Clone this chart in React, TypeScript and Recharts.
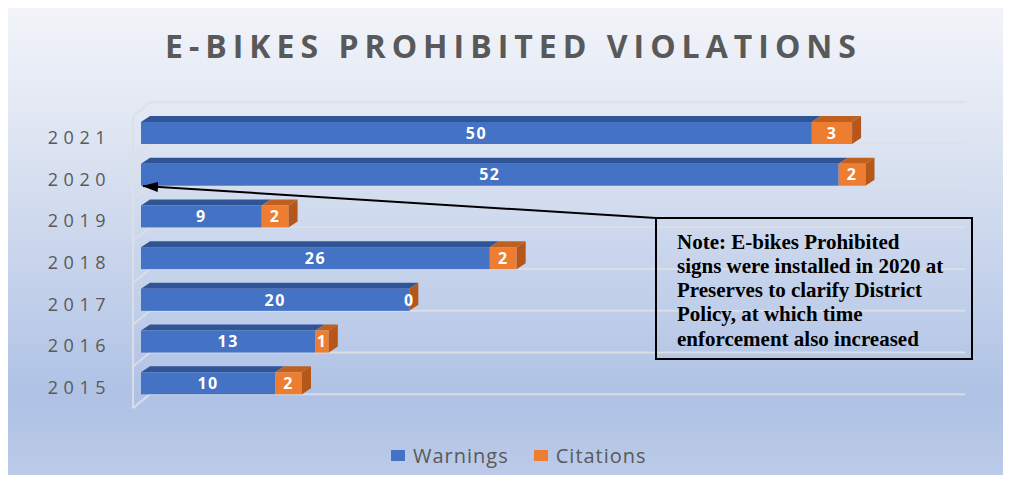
import { Bar, BarChart, CartesianGrid, LabelList, Legend, XAxis, YAxis } from "recharts";

const years = ["2015", "2016", "2017", "2018", "2019", "2020", "2021"];
const warnings = [10, 13, 20, 26, 9, 52, 50];
const citations = [2, 1, 0, 2, 2, 2, 3];
const seriesOrder = ["Warnings", "Citations"];

const data = years.map((year, i) => ({
  year,
  warnings: warnings[i],
  citations: citations[i],
}));

const W = 1011;
const H = 483;
const BAR_SIZE = 22;
const DX = 9;
const DY = 6;
const GRID = "rgba(220,224,230,0.9)";

const box =
  (front: string, top: string, side: string, withSide: boolean) =>
  (props: any) => {
    const { x, y, width, height } = props;
    const w = Math.max(0, width);
    return (
      <g>
        <polygon
          points={`${x},${y} ${x + DX},${y - DY} ${x + w + DX},${y - DY} ${x + w},${y}`}
          fill={top}
        />
        <rect x={x} y={y} width={w} height={height} fill={front} />
        {withSide && (
          <polygon
            points={`${x + w},${y} ${x + w + DX},${y - DY} ${x + w + DX},${y + height - DY} ${x + w},${y + height}`}
            fill={side}
          />
        )}
      </g>
    );
  };

const YearTick = (props: any) => {
  const { x, y, payload } = props;
  return (
    <text
      x={x - 22}
      y={y + 11}
      textAnchor="end"
      fill="#595959"
      fontSize={18}
      letterSpacing={5.5}
      fontFamily="'Open Sans', sans-serif"
    >
      {payload.value}
    </text>
  );
};

// back wall lines: one under each bar plus one above the top bar
const gridRows = (p: any) => {
  const band = p.offset.height / years.length;
  const rows = [p.offset.top - band / 2 + BAR_SIZE / 2];
  years.forEach((_, i) => rows.push(p.offset.top + band * i + band / 2 + BAR_SIZE / 2));
  return rows;
};

const GridRow = (props: any) => {
  const { x1, x2, y1 } = props;
  return (
    <g>
      <line x1={x1 - 8} y1={y1 + 14} x2={x1 + 9} y2={y1} stroke={GRID} strokeWidth={2} />
      <line x1={x1 + 9} y1={y1} x2={x2 + 19} y2={y1} stroke={GRID} strokeWidth={2} />
    </g>
  );
};

const WallLine = (props: any) => {
  const { x1, y1, y2 } = props;
  const band = (y2 - y1) / years.length;
  return (
    <line
      x1={x1}
      y1={y1 - band / 2 + BAR_SIZE / 2 + 14}
      x2={x1}
      y2={y2 - band / 2 + BAR_SIZE / 2 + 14}
      stroke={GRID}
      strokeWidth={2}
    />
  );
};

const LegendBox = (props: any) => {
  const items = [...props.payload].sort(
    (a: any, b: any) => seriesOrder.indexOf(a.value) - seriesOrder.indexOf(b.value)
  );
  return (
    <div
      style={{
        height: 65,
        display: "flex",
        alignItems: "flex-end",
        paddingLeft: 391,
        fontFamily: "'Open Sans', sans-serif",
        fontSize: 20,
        color: "#595959",
        boxSizing: "border-box",
      }}
    >
      {items.map((entry: any) => (
        <div key={entry.value} style={{ display: "flex", alignItems: "center", marginRight: 25 }}>
          <span style={{ width: 14, height: 11, background: entry.color, marginRight: 8 }} />
          <span style={{ letterSpacing: 1 }}>{entry.value}</span>
        </div>
      ))}
    </div>
  );
};

const noteLines = [
  "Note: E-bikes Prohibited",
  "signs were installed in 2020 at",
  "Preserves to clarify District",
  "Policy, at which time",
  "enforcement also increased",
];

export default function App() {
  return (
    <div style={{ margin: -8, width: W, height: H, position: "relative", background: "#fff", overflow: "hidden" }}>
      <div
        style={{
          position: "absolute",
          left: 5,
          top: 7,
          width: 998,
          height: 474,
          border: "1px solid #d9d9d9",
          background:
            "linear-gradient(180deg, #f2f4f9 0%, #e2e8f4 22%, #c9d5ec 52%, #afc2e5 82%, #bccbe8 100%)",
        }}
      />
      <div
        style={{
          position: "absolute",
          left: 0,
          top: 24,
          width: W,
          paddingLeft: 16,
          boxSizing: "border-box",
          textAlign: "center",
          fontFamily: "'Open Sans', sans-serif",
          fontWeight: 700,
          fontSize: 32,
          letterSpacing: 6,
          color: "#595959",
        }}
      >
        E-BIKES PROHIBITED VIOLATIONS
      </div>
      <div style={{ position: "absolute", left: 0, top: 0 }}>
        <BarChart
          width={W}
          height={H}
          data={data}
          layout="vertical"
          margin={{ top: 112, right: 65, bottom: 14, left: 0 }}
          barSize={BAR_SIZE}
        >
          <CartesianGrid
            horizontalCoordinatesGenerator={gridRows}
            verticalCoordinatesGenerator={(p: any) => [p.offset.left - 8]}
            horizontal={GridRow}
            vertical={WallLine}
          />
          <XAxis type="number" domain={[0, 60]} hide />
          <YAxis
            type="category"
            dataKey="year"
            reversed
            width={141}
            axisLine={false}
            tickLine={false}
            tick={YearTick}
          />
          <Legend verticalAlign="bottom" content={LegendBox} />
          <Bar
            dataKey="warnings"
            name="Warnings"
            stackId="a"
            fill="#4472c4"
            shape={box("#4472c4", "#2f5597", "#2f5597", false)}
            isAnimationActive={false}
          >
            <LabelList
              dataKey="warnings"
              position="center"
              fill="#fff"
              fontSize={16}
              fontWeight={700}
              letterSpacing={1.5}
              fontFamily="'Open Sans', sans-serif"
            />
          </Bar>
          <Bar
            dataKey="citations"
            name="Citations"
            stackId="a"
            fill="#ed7d31"
            shape={box("#ed7d31", "#c0601f", "#b5571b", true)}
            isAnimationActive={false}
          >
            <LabelList
              dataKey="citations"
              position="center"
              fill="#fff"
              fontSize={16}
              fontWeight={700}
              letterSpacing={1.5}
              fontFamily="'Open Sans', sans-serif"
            />
          </Bar>
        </BarChart>
      </div>
      <svg width={W} height={H} style={{ position: "absolute", left: 0, top: 0, pointerEvents: "none" }}>
        <defs>
          <marker id="head" markerWidth="16" markerHeight="10" refX="15" refY="5" orient="auto" markerUnits="userSpaceOnUse">
            <path d="M0,0 L16,5 L0,10 Z" fill="#000" />
          </marker>
        </defs>
        <line x1={656} y1={218} x2={143} y2={186} stroke="#000" strokeWidth={2} markerEnd="url(#head)" />
        <rect x={656} y={218} width={316} height={141} fill="none" stroke="#000" strokeWidth={2} />
        {noteLines.map((t, i) => (
          <text
            key={t}
            x={677}
            y={248.5 + i * 24.3}
            fontFamily="'Liberation Serif', 'Times New Roman', serif"
            fontWeight={700}
            fontSize={21}
            fill="#000"
          >
            {t}
          </text>
        ))}
      </svg>
    </div>
  );
}
